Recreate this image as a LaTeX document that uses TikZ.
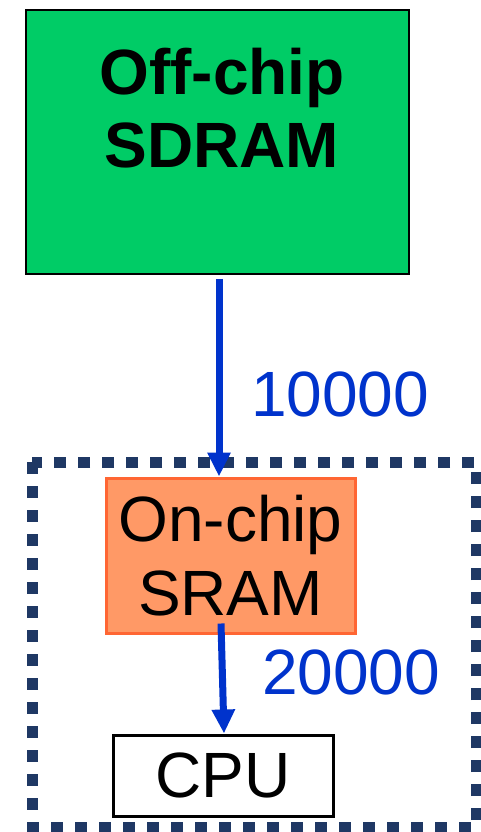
\documentclass[tikz,border=0pt]{standalone}
\usepackage{fontspec}
\setmainfont{Liberation Sans}
\usetikzlibrary{arrows.meta,calc}
\definecolor{arrowblue}{HTML}{0033CC}
\definecolor{sdramgreen}{HTML}{00CC66}
\definecolor{sramfill}{HTML}{FF9966}
\definecolor{sramedge}{HTML}{FF6633}
\definecolor{navy}{HTML}{1F3864}
\begin{document}
\begin{tikzpicture}[x=1pt,y=-1pt,
  bigtxt/.style={font=\fontsize{64}{74}\selectfont, align=center},
  sdrambox/.style={draw=black, line width=1.5pt, fill=sdramgreen, minimum width=383pt, minimum height=264pt, inner sep=0pt},
  srambox/.style={draw=sramedge, line width=3pt, fill=sramfill, minimum width=249pt, minimum height=155pt, inner sep=0pt, bigtxt},
  cpubox/.style={draw=black, line width=3pt, fill=white, minimum width=220pt, minimum height=81pt, inner sep=0pt, bigtxt},
  flow/.style={draw=arrowblue, line width=7pt, -{Triangle[length=24pt,width=22pt]}},
  flowlabel/.style={text=arrowblue, font=\fontsize{64}{74}\selectfont, anchor=base west, inner sep=0pt},
  dotbox/.style={draw=navy, line width=11pt, dash pattern=on 12pt off 12pt}
]
\useasboundingbox (0,0) rectangle (481,832);
\fill[white] (0,0) rectangle (481,832);
% dotted on-chip region
\draw[dotbox] (32,462) rectangle (476,827);
% nodes
\node[sdrambox] (sdram) at (217.5,142) {};
\node[bigtxt, font=\fontsize{64}{73}\selectfont\bfseries] (sdramtxt) at (222,108) {Off-chip\\SDRAM};
\node[srambox] (sram) at (230.5,555.5) {On-chip\\SRAM};
\node[cpubox] (cpu) at (223,775.5) {CPU};
% connectors
\coordinate (a1) at (219,0);
\draw[flow, shorten <=4pt] (sdram.south -| a1) -- (sram.north -| a1);
\draw[flow] ($(sram.south)+(-9.5,-11)$) -- ($(cpu.north)+(1,0)$);
% labels
\node[flowlabel] (l1) at (251,416) {10000};
\node[flowlabel] (l2) at (262,694) {20000};
\end{tikzpicture}
\end{document}
